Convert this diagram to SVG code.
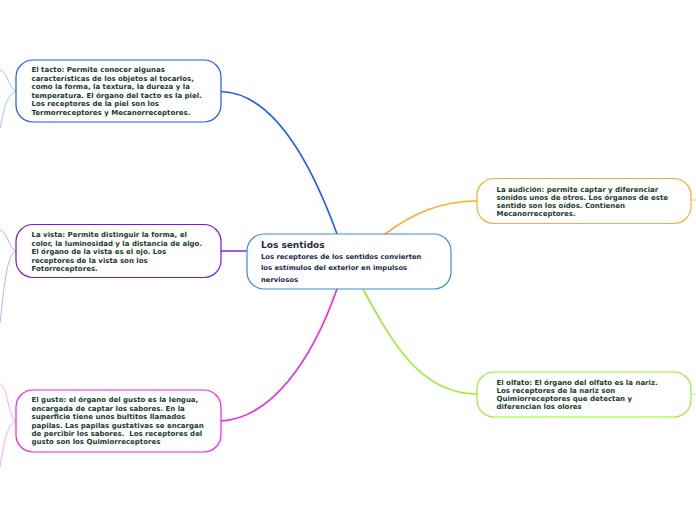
<svg xmlns="http://www.w3.org/2000/svg" width="696" height="520" viewBox="0 0 696 520">
<style>
.t{font-family:"DejaVu Sans",Verdana,sans-serif;font-weight:bold;font-size:7px;fill:#183c2c}
.c{font-family:"DejaVu Sans",Verdana,sans-serif;font-weight:bold;fill:#1d2b4c}
.box{fill:#ffffff;stroke-width:1.2}
.con{fill:none;stroke-width:1.6;stroke-linecap:round}
.fade{fill:none;stroke-width:1}
</style>
<rect width="696" height="520" fill="#ffffff"/>
<g id="connectors">
<path class="con" d="M221,91.5 C272,93 310,160 337,234" stroke="#1f5cff"/>
<path class="con" d="M220,251 L247,251" stroke="#7a2cf0"/>
<path class="con" d="M221,421 C272,418 312,360 337,289" stroke="#ee22ee"/>
<path class="con" d="M385,234 C412,214 440,201 477,201" stroke="#ffaa30"/>
<path class="con" d="M363,289 C392,342 420,394 477,394" stroke="#99ee33"/>
<path class="fade" d="M691,200 L696,200" stroke="#ffc070"/>
<path class="fade" d="M691,394 L696,394" stroke="#c0f080"/>
<path class="fade" d="M16,91 C8,88 8,72 0,70" stroke="#a9bdff"/>
<path class="fade" d="M16,91 C6,95 4,110 0,128" stroke="#a9bdff"/>
<path class="fade" d="M16,251 C8,248 8,232 0,230" stroke="#c6a8fa"/>
<path class="fade" d="M16,251 C6,255 4,290 0,323" stroke="#c6a8fa"/>
<path class="fade" d="M16,421 C8,418 8,386 0,384" stroke="#ffa8f4"/>
<path class="fade" d="M16,421 C6,425 4,445 0,467" stroke="#ffa8f4"/>
</g>
<g id="central">
<rect class="box" x="247" y="234" width="204" height="55" rx="17" stroke="#3a8fd0"/>
<text class="c" x="261" y="247.5" font-size="9">Los sentidos</text>
<text class="c" x="261" y="258.5" font-size="6.8">Los receptores de los sentidos convierten</text>
<text class="c" x="261" y="270" font-size="6.8">los estímulos del exterior en impulsos</text>
<text class="c" x="261" y="281.5" font-size="6.8">nerviosos</text>
</g>
<g id="tacto">
<rect class="box" x="16" y="60" width="205" height="62" rx="17" stroke="#2255ff"/>
<text class="t" x="31.5" y="72.3">El tacto: Permite conocer algunas</text>
<text class="t" x="31.5" y="80.8">características de los objetos al tocarlos,</text>
<text class="t" x="31.5" y="89.3">como la forma, la textura, la dureza y la</text>
<text class="t" x="31.5" y="97.8">temperatura. El órgano del tacto es la piel.</text>
<text class="t" x="31.5" y="106.3">Los receptores de la piel son los</text>
<text class="t" x="31.5" y="114.8">Termorreceptores y Mecanorreceptores.</text>
</g>
<g id="vista">
<rect class="box" x="16" y="224.5" width="205" height="53" rx="17" stroke="#6a1aee"/>
<text class="t" x="31.5" y="237.3">La vista: Permite distinguir la forma, el</text>
<text class="t" x="31.5" y="245.7">color, la luminosidad y la distancia de algo.</text>
<text class="t" x="31.5" y="254.1">El órgano de la vista es el ojo. Los</text>
<text class="t" x="31.5" y="262.5">receptores de la vista son los</text>
<text class="t" x="31.5" y="270.9">Fotorreceptores.</text>
</g>
<g id="gusto">
<rect class="box" x="16" y="390" width="205" height="62" rx="17" stroke="#ee22ee"/>
<text class="t" x="31.5" y="402.3">El gusto: el órgano del gusto es la lengua,</text>
<text class="t" x="31.5" y="410.7">encargada de captar los sabores. En la</text>
<text class="t" x="31.5" y="419.1">superficie tiene unos bultitos llamados</text>
<text class="t" x="31.5" y="427.5">papilas. Las papilas gustativas se encargan</text>
<text class="t" x="31.5" y="435.9" xml:space="preserve">de percibir los sabores.  Los receptores del</text>
<text class="t" x="31.5" y="444.3">gusto son los Quimiorreceptores</text>
</g>
<g id="audicion">
<rect class="box" x="477" y="178.5" width="214" height="45" rx="17" stroke="#ffaa33"/>
<text class="t" x="496.5" y="191.5">La audición: permite captar y diferenciar</text>
<text class="t" x="496.5" y="199.5">sonidos unos de otros. Los órganos de este</text>
<text class="t" x="496.5" y="207.5">sentido son los oídos. Contienen</text>
<text class="t" x="496.5" y="215.5">Mecanorreceptores.</text>
</g>
<g id="olfato">
<rect class="box" x="477" y="372" width="214" height="45" rx="17" stroke="#99ee33"/>
<text class="t" x="496.5" y="384.7">El olfato: El órgano del olfato es la nariz.</text>
<text class="t" x="496.5" y="392.9">Los receptores de la nariz son</text>
<text class="t" x="496.5" y="401.1">Quimiorreceptores que detectan y</text>
<text class="t" x="496.5" y="409.3">diferencian los olores</text>
</g>
</svg>
